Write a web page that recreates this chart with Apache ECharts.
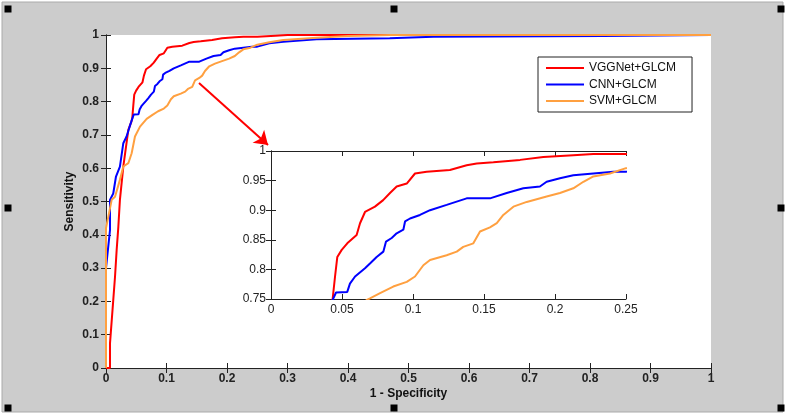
<!DOCTYPE html>
<html>
<head>
<meta charset="utf-8">
<script src="https://cdn.jsdelivr.net/npm/echarts@6/dist/echarts.min.js"></script>
<style>
html,body{margin:0;padding:0;background:#fff;}
#chart{width:790px;height:416px;}
</style>
</head>
<body>
<div id="chart"></div>
<script>
// ---- data ----
var seriesNames = ['VGGNet+GLCM', 'CNN+GLCM', 'SVM+GLCM'];
var vggData = [[0,0],[0.0066,0],[0.0066,0.074],[0.012,0.204],[0.0149,0.274],[0.0176,0.354],[0.0204,0.424],[0.023,0.505],[0.0286,0.605],[0.0369,0.715],[0.042,0.74],[0.0434,0.75],[0.0451,0.788],[0.0467,0.821],[0.0498,0.833],[0.0537,0.844],[0.0603,0.858],[0.0627,0.878],[0.0662,0.897],[0.0732,0.906],[0.079,0.917],[0.0838,0.929],[0.0885,0.94],[0.0956,0.945],[0.1014,0.962],[0.1096,0.965],[0.126,0.968],[0.1378,0.976],[0.1449,0.979],[0.1566,0.981],[0.1754,0.985],[0.1918,0.99],[0.2129,0.993],[0.227,0.995],[0.25,0.995],[0.28,0.998],[0.3,1],[0.4,1],[1,1]];
var cnnData = [[0,0],[0,0.084],[0,0.3],[0.0066,0.414],[0.0066,0.505],[0.012,0.524],[0.0165,0.575],[0.023,0.605],[0.0286,0.675],[0.034,0.695],[0.04,0.73],[0.0439,0.751],[0.0458,0.761],[0.0537,0.762],[0.0556,0.776],[0.0592,0.788],[0.0662,0.802],[0.0697,0.81],[0.0744,0.821],[0.0791,0.83],[0.081,0.847],[0.085,0.853],[0.0885,0.861],[0.0932,0.867],[0.0944,0.881],[0.0979,0.886],[0.1049,0.892],[0.112,0.9],[0.1237,0.909],[0.1378,0.92],[0.1542,0.92],[0.166,0.929],[0.1777,0.937],[0.1894,0.94],[0.1941,0.948],[0.2035,0.954],[0.2129,0.959],[0.227,0.962],[0.2411,0.965],[0.25,0.965],[0.27,0.975],[0.293,0.98],[0.348,0.987],[0.469,0.99],[0.541,0.995],[0.822,0.997],[0.825,1],[1,1]];
var svmData = [[0,0],[0,0.42],[0.0094,0.505],[0.0149,0.514],[0.023,0.565],[0.0286,0.605],[0.0369,0.615],[0.0424,0.645],[0.0479,0.695],[0.0562,0.725],[0.0672,0.748],[0.0697,0.751],[0.0768,0.76],[0.0861,0.771],[0.0956,0.779],[0.1014,0.788],[0.1073,0.807],[0.112,0.816],[0.1237,0.824],[0.1308,0.83],[0.1354,0.838],[0.1425,0.844],[0.1472,0.864],[0.1542,0.871],[0.159,0.878],[0.1636,0.892],[0.1707,0.906],[0.1801,0.914],[0.1941,0.923],[0.2035,0.929],[0.2129,0.937],[0.22,0.948],[0.227,0.957],[0.2387,0.962],[0.25,0.971],[0.27,0.978],[0.293,0.985],[0.348,0.992],[0.4,0.997],[0.47,1],[1,1]];
var mainXTicks = [0,0.1,0.2,0.3,0.4,0.5,0.6,0.7,0.8,0.9,1];
var mainYTicks = [0,0.1,0.2,0.3,0.4,0.5,0.6,0.7,0.8,0.9,1];
var insetXRange = [0, 0.25];
var insetYRange = [0.75, 1];
var arrowFrom = [0.1537, 0.856];
var arrowTo = [0.2678, 0.6697];

var colors = ['#ff0000', '#0000ff', '#ffa040'];
var allData = [vggData, cnnData, svmData];

var chart = echarts.init(document.getElementById('chart'), null, {renderer: 'canvas'});

var axisLine = {show: true, lineStyle: {color: '#222', width: 1}};
var tickIn = {show: true, inside: true, length: 5, lineStyle: {color: '#222'}};
var mainLabel = {color: '#222', fontFamily: 'Liberation Sans, Arial', fontSize: 12, fontWeight: 'bold'};
var insetLabel = {color: '#222', fontFamily: 'Liberation Sans, Arial', fontSize: 12, fontWeight: 'normal'};

function fmt(v){ return String(+v.toFixed(2)); }

var series = [];
allData.forEach(function(d, i){
  var s = {
    name: seriesNames[i], type: 'line', xAxisIndex: 0, yAxisIndex: 0,
    data: d, symbol: 'none', showSymbol: false, clip: true,
    lineStyle: {color: colors[i], width: 2}, itemStyle: {color: colors[i]},
    z: 2 + i, animation: false
  };
  if (i === 0) {
    s.markLine = {
      silent: true, symbol: ['none', 'arrow'], symbolSize: 13,
      label: {show: false}, animation: false,
      lineStyle: {color: '#ff0000', width: 2, type: 'solid'},
      emphasis: {disabled: true},
      data: [[{coord: arrowFrom}, {coord: arrowTo}]]
    };
  }
  series.push(s);
});
allData.forEach(function(d, i){
  series.push({
    name: seriesNames[i], type: 'line', xAxisIndex: 1, yAxisIndex: 1,
    data: d, symbol: 'none', showSymbol: false, clip: true,
    lineStyle: {color: colors[i], width: 2}, itemStyle: {color: colors[i]},
    z: 10 + i, animation: false
  });
});

function handle(x, y){
  return {type: 'rect', shape: {x: x - 3.5, y: y - 3.5, width: 7, height: 7}, style: {fill: '#000'}, z: 100};
}

var option = {
  backgroundColor: '#ffffff',
  animation: false,
  graphic: [
    {type: 'rect', shape: {x: 2, y: 2, width: 781, height: 410}, style: {fill: '#cccccc', stroke: '#aaa', lineWidth: 1}, z: -10, silent: true},
    handle(8, 9), handle(394, 9), handle(781, 9),
    handle(8, 208), handle(781, 208),
    handle(8, 408), handle(394, 408), handle(781, 408)
  ],
  legend: {
    data: seriesNames, orient: 'vertical', left: 538, top: 57,
    icon: 'rect', itemWidth: 38, itemHeight: 2, itemGap: 2.5,
    padding: [4, 16, 4, 8], backgroundColor: '#fff', borderColor: '#222', borderWidth: 1,
    textStyle: {fontFamily: 'Liberation Sans, Arial', fontSize: 12, color: '#111', lineHeight: 14},
    selectedMode: false, z: 20
  },
  grid: [
    {left: 106, top: 35, right: 79, bottom: 48, show: true, backgroundColor: '#fff', borderWidth: 0, z: 0},
    {left: 271, top: 151, right: 164, bottom: 117, show: true, backgroundColor: '#fff', borderWidth: 0, z: 5}
  ],
  xAxis: [
    {type: 'value', gridIndex: 0, min: mainXTicks[0], max: mainXTicks[mainXTicks.length-1], interval: 0.1, position: 'bottom',
     name: '1 - Specificity', nameLocation: 'middle', nameGap: 20, nameMoveOverlap: false,
     nameTextStyle: {color: '#111', fontFamily: 'Liberation Sans, Arial', fontSize: 12, fontWeight: 'bold'},
     axisLine: axisLine, axisTick: tickIn, splitLine: {show: false},
     axisLabel: Object.assign({margin: 5, formatter: fmt}, mainLabel)},
    {type: 'value', gridIndex: 1, min: insetXRange[0], max: insetXRange[1], interval: 0.05, position: 'bottom',
     axisLine: axisLine, axisTick: tickIn, splitLine: {show: false},
     axisLabel: Object.assign({margin: 5, formatter: fmt}, insetLabel), z: 6},
    {type: 'value', gridIndex: 0, min: 0, max: 1, interval: 0.1, position: 'top',
     axisLine: axisLine, axisTick: tickIn, axisLabel: {show: false}, splitLine: {show: false}},
    {type: 'value', gridIndex: 1, min: insetXRange[0], max: insetXRange[1], interval: 0.05, position: 'top',
     axisLine: axisLine, axisTick: tickIn, axisLabel: {show: false}, splitLine: {show: false}, z: 6}
  ],
  yAxis: [
    {type: 'value', gridIndex: 0, min: mainYTicks[0], max: mainYTicks[mainYTicks.length-1], interval: 0.1, position: 'left',
     name: 'Sensitivity', nameLocation: 'middle', nameGap: 30, nameRotate: 90, nameMoveOverlap: false,
     nameTextStyle: {color: '#111', fontFamily: 'Liberation Sans, Arial', fontSize: 12, fontWeight: 'bold'},
     axisLine: axisLine, axisTick: tickIn, splitLine: {show: false},
     axisLabel: Object.assign({margin: 7, formatter: fmt}, mainLabel)},
    {type: 'value', gridIndex: 1, min: insetYRange[0], max: insetYRange[1], interval: 0.05, position: 'left',
     axisLine: axisLine, axisTick: tickIn, splitLine: {show: false},
     axisLabel: Object.assign({margin: 5, formatter: fmt}, insetLabel), z: 6},
    {type: 'value', gridIndex: 0, min: 0, max: 1, interval: 0.1, position: 'right',
     axisLine: axisLine, axisTick: tickIn, axisLabel: {show: false}, splitLine: {show: false}},
    {type: 'value', gridIndex: 1, min: insetYRange[0], max: insetYRange[1], interval: 0.05, position: 'right',
     axisLine: axisLine, axisTick: tickIn, axisLabel: {show: false}, splitLine: {show: false}, z: 6}
  ],
  series: series
};
chart.setOption(option);
</script>
</body>
</html>
